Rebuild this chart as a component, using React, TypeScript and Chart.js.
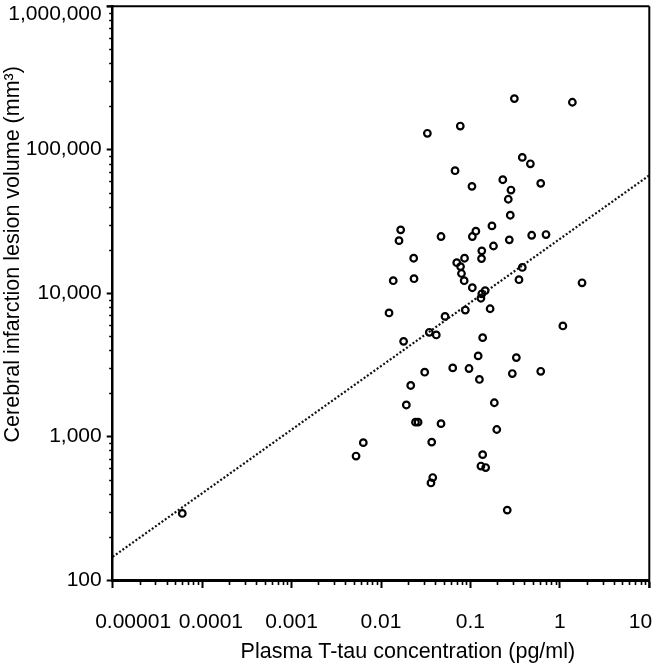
import React, { useEffect, useRef } from 'react';
import { Chart, registerables } from 'chart.js';

Chart.register(...registerables);

// Plasma T-tau concentration (pg/ml) per patient
const tauX = [
  0.31, 1.38, 0.033, 0.077, 0.38, 0.468, 0.0673, 0.104, 0.23, 0.284,
  0.265, 0.611, 0.279, 0.0166, 0.0159, 0.0469, 0.115, 0.105, 0.174, 0.272,
  0.484, 0.7, 0.181, 0.134, 0.133, 0.0232, 0.0703, 0.0859, 0.0775, 0.0794,
  0.0851, 0.38, 0.0137, 0.0234, 0.349, 1.77, 0.105, 0.146, 0.134, 0.131,
  0.0123, 0.052, 0.0877, 0.166, 0.0347, 0.0415, 0.0179, 1.08, 0.137, 0.122,
  0.326, 0.0308, 0.0634, 0.0964, 0.294, 0.611, 0.126, 0.0215, 0.185, 0.0192,
  0.0243, 0.026, 0.0469, 0.197, 0.00634, 0.00526, 0.0369, 0.137, 0.131, 0.148,
  0.0379, 0.0362, 0.258, 0.00006,
];

// Cerebral infarction lesion volume (mm3) per patient
const volumeY = [
  227000, 214000, 130000, 146000, 88300, 79700, 71300, 55500, 61700, 52300,
  45100, 58200, 34900, 27600, 23200, 24800, 27000, 24800, 29400, 23500,
  25300, 25600, 21300, 19700, 17400, 17500, 16300, 17500, 15300, 13700,
  12200, 15100, 12200, 12600, 12400, 11800, 10900, 10400, 9890, 9210,
  7270, 6880, 7620, 7780, 5330, 5110, 4610, 5900, 4890, 3650,
  3550, 2810, 3010, 2980, 2750, 2850, 2500, 2270, 1720, 1660,
  1260, 1260, 1230, 1120, 907, 731, 915, 748, 623, 608,
  518, 475, 307, 291,
];

// Regression (dotted) line end points
const fitLineX = [0.00001, 10];
const fitLineY = [145, 66200];

const xTickValues = [0.00001, 0.0001, 0.001, 0.01, 0.1, 1, 10];
const xTickLabels = ['0.00001', '0.0001', '0.001', '0.01', '0.1', '1', '10'];
const yTickValues = [100, 1000, 10000, 100000, 1000000];
const yTickLabels = ['100', '1,000', '10,000', '100,000', '1,000,000'];

const xTitle = 'Plasma T-tau concentration (pg/ml)';
const yTitle = 'Cerebral infarction lesion volume (mm³)';

const FONT = "'Liberation Sans', Arial, Helvetica, sans-serif";

const frameAndMinorTicks = {
  id: 'frameAndMinorTicks',
  afterDraw(chart: any) {
    const { ctx, chartArea } = chart;
    const { left, right, top, bottom } = chartArea;
    const xs = chart.scales.x;
    const ys = chart.scales.y;
    ctx.save();
    ctx.strokeStyle = '#000';
    // top and right frame lines
    ctx.lineWidth = 2;
    ctx.beginPath();
    ctx.moveTo(left - 6, top);
    ctx.lineTo(right, top);
    ctx.moveTo(right, top);
    ctx.lineTo(right, bottom + 8);
    ctx.stroke();
    // minor ticks
    ctx.lineWidth = 1.6;
    ctx.beginPath();
    for (let d = 0; d < xTickValues.length - 1; d++) {
      for (let k = 2; k <= 9; k++) {
        const v = xTickValues[d] * k;
        const px = Math.round(xs.getPixelForValue(v)) + 0.5;
        ctx.moveTo(px, bottom);
        ctx.lineTo(px, bottom + 5);
      }
    }
    for (let d = 0; d < yTickValues.length - 1; d++) {
      for (let k = 2; k <= 9; k++) {
        const v = yTickValues[d] * k;
        const py = Math.round(ys.getPixelForValue(v)) + 0.5;
        ctx.moveTo(left, py);
        ctx.lineTo(left - 3.5, py);
      }
    }
    ctx.stroke();
    ctx.restore();
  },
};

export default function App() {
  const canvasRef = useRef<HTMLCanvasElement | null>(null);

  useEffect(() => {
    const canvas = canvasRef.current;
    if (!canvas) return;
    const points = tauX.map((x, i) => ({ x, y: volumeY[i] }));
    const fit = fitLineX.map((x, i) => ({ x, y: fitLineY[i] }));
    const xLabelPad = (i: number, s: string) => {
      if (i === 0) return '       ' + s;
      if (i === 1) return '   ' + s;
      if (i === xTickLabels.length - 1) return s + '   ';
      return s;
    };
    const lastY = yTickLabels.length - 1;
    const zeroPad = (s: any) => {
      s.paddingLeft = 0;
      s.paddingRight = 0;
      s.paddingTop = 0;
      s.paddingBottom = 0;
    };
    const chart = new Chart(canvas, {
      type: 'scatter',
      data: {
        datasets: [
          {
            type: 'line',
            data: fit,
            borderColor: '#111',
            borderWidth: 2.2,
            borderDash: [2, 2],
            pointRadius: 0,
            fill: false,
          } as any,
          {
            type: 'scatter',
            data: points,
            pointRadius: 3.3,
            pointBorderWidth: 2.2,
            pointBackgroundColor: 'rgba(0,0,0,0)',
            pointBorderColor: '#000',
            borderColor: '#000',
            backgroundColor: 'rgba(0,0,0,0)',
          },
        ],
      },
      options: {
        responsive: false,
        animation: false,
        maintainAspectRatio: false,
        events: [],
        layout: { padding: { left: 0, top: 4.7, right: 7.7, bottom: 0 } },
        plugins: {
          legend: { display: false },
          tooltip: { enabled: false },
        },
        scales: {
          x: {
            type: 'logarithmic',
            position: 'bottom',
            min: 0.00001,
            max: 10,
            afterBuildTicks: (s: any) => {
              s.ticks = xTickValues.map((v) => ({ value: v, major: true }));
            },
            afterFit: (s: any) => {
              s.height = 92;
              zeroPad(s);
            },
            ticks: {
              autoSkip: false,
              maxRotation: 0,
              minRotation: 0,
              padding: 22,
              color: '#000',
              font: { family: FONT, size: 21 },
              callback: (_v: any, i: number) => xLabelPad(i, xTickLabels[i]),
            },
            grid: {
              display: true,
              drawOnChartArea: false,
              drawTicks: true,
              tickLength: 8,
              tickWidth: 2,
              tickColor: '#000',
            },
            border: { display: true, color: '#000', width: 3 },
            title: {
              display: true,
              text: '         ' + xTitle,
              color: '#000',
              font: { family: FONT, size: 21.5 },
              padding: { top: 0, bottom: 7 },
            },
          },
          y: {
            type: 'logarithmic',
            position: 'left',
            min: 100,
            max: 1000000,
            afterBuildTicks: (s: any) => {
              s.ticks = yTickValues.map((v) => ({ value: v, major: true }));
            },
            afterFit: (s: any) => {
              s.width = 112.7;
              zeroPad(s);
            },
            ticks: {
              autoSkip: false,
              padding: 5,
              color: '#000',
              font: (c: any) => ({
                family: FONT,
                size: 21,
                lineHeight: c.index === lastY ? '16px' : 1.2,
              }),
              callback: (_v: any, i: number) =>
                i === lastY ? ['', yTickLabels[i]] : yTickLabels[i],
            },
            grid: {
              display: true,
              drawOnChartArea: false,
              drawTicks: true,
              tickLength: 6,
              tickWidth: 2,
              tickColor: '#000',
            },
            border: { display: true, color: '#000', width: 2.5 },
            title: {
              display: true,
              text: '             ' + yTitle,
              color: '#000',
              font: { family: FONT, size: 21.5 },
              padding: { top: 0, bottom: 0 },
            },
          },
        },
      },
      plugins: [frameAndMinorTicks],
    } as any);
    return () => chart.destroy();
  }, []);

  return (
    <div style={{ position: 'fixed', left: 0, top: 0, width: 657, height: 672, background: '#fff' }}>
      <canvas ref={canvasRef} width={657} height={672} style={{ display: 'block' }} />
    </div>
  );
}
